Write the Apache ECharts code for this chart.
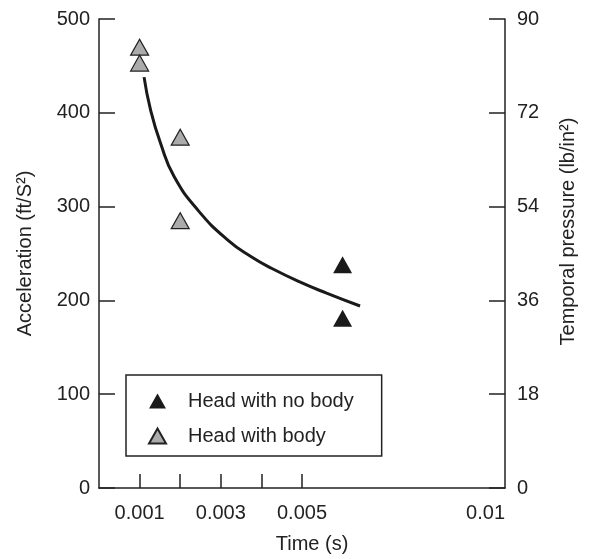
<!DOCTYPE html>
<html>
<head>
<meta charset="utf-8">
<title>Acceleration vs time</title>
<style>
    html, body { margin:0; padding:0; background:#fff; }
    #main { width:591px; height:559px; }
</style>
</head>
<body>
<div id="main"></div>
<script src="https://cdn.jsdelivr.net/npm/echarts@6/dist/echarts.min.js"></script>
<script type="text/javascript">
    // data
    var noBodyTime = [0.006, 0.006];
    var noBodyAccel = [238, 181];
    var withBodyTime = [0.001, 0.001, 0.002, 0.002];
    var withBodyAccel = [470, 453, 374, 285];
    // fitted curve
    var curveTime = [0.00111, 0.00127, 0.00152, 0.00185, 0.00244, 0.00318, 0.00377, 0.00426, 0.00493, 0.00559, 0.00643];
    var curveAccel = [438, 403, 367, 332, 296, 264, 246, 234, 220, 208, 194];
    var xTicks = [0.001, 0.002, 0.003, 0.004, 0.005];
    var xLabels = [0.001, 0.003, 0.005, 0.01];

    function pairs(xs, ys) {
        var out = [];
        for (var i = 0; i < xs.length; i++) out.push([xs[i], ys[i]]);
        return out;
    }

    var ink = '#222';
    var font = 'Liberation Sans, Arial, sans-serif';
    var fs = 20;

    var chart = echarts.init(document.getElementById('main'));
    var option = {
        backgroundColor: '#fff',
        animation: false,
        textStyle: { fontFamily: font },
        grid: { left: 99, right: 86, top: 19, bottom: 71 },
        legend: {
            orient: 'vertical',
            left: 126,
            top: 375,
            data: ['Head with no body', 'Head with body'],
            icon: 'triangle',
            itemWidth: 17,
            itemHeight: 15,
            itemGap: 15,
            borderColor: ink,
            borderWidth: 1.5,
            padding: [16, 28, 10, 22],
            textStyle: { fontSize: fs, color: ink, fontFamily: font, padding: [0, 0, 0, 17] }
        },
        xAxis: {
            type: 'value',
            min: 0,
            max: 0.01,
            name: 'Time (s)',
            nameLocation: 'middle',
            nameGap: 46,
            nameTextStyle: { fontSize: fs, color: ink, padding: [0, 0, 0, 20] },
            axisLine: { lineStyle: { color: ink, width: 1.5 } },
            axisTick: { inside: true, length: 14, customValues: xTicks, lineStyle: { color: ink, width: 1.5 } },
            axisLabel: {
                customValues: xLabels,
                fontSize: fs,
                color: ink,
                margin: 15,
                alignMaxLabel: 'right',
                formatter: function (v) { return v === 0.01 ? '0.01' : v.toFixed(3); }
            },
            splitLine: { show: false }
        },
        yAxis: [{
            type: 'value',
            min: 0,
            max: 500,
            interval: 100,
            name: 'Acceleration (ft/S²)',
            nameLocation: 'middle',
            nameGap: 64,
            nameTextStyle: { fontSize: fs, color: ink },
            axisLine: { show: true, lineStyle: { color: ink, width: 1.5 } },
            axisTick: { show: true, inside: true, length: 16, lineStyle: { color: ink, width: 1.5 } },
            axisLabel: { fontSize: fs, color: ink, margin: 9 },
            splitLine: { show: false }
        }, {
            type: 'value',
            min: 0,
            max: 90,
            interval: 18,
            position: 'right',
            name: 'Temporal pressure (lb/in²)',
            nameLocation: 'middle',
            nameGap: 53,
            nameTextStyle: { fontSize: fs, color: ink, padding: [0, 0, 0, 44] },
            axisLine: { show: true, lineStyle: { color: ink, width: 1.5 } },
            axisTick: { show: true, inside: true, length: 16, lineStyle: { color: ink, width: 1.5 } },
            axisLabel: { fontSize: fs, color: ink, margin: 12 },
            splitLine: { show: false }
        }],
        series: [{
            name: 'fit',
            type: 'line',
            smooth: true,
            showSymbol: false,
            silent: true,
            lineStyle: { color: '#1a1a1a', width: 3 },
            data: pairs(curveTime, curveAccel)
        }, {
            name: 'Head with no body',
            type: 'scatter',
            symbol: 'triangle',
            symbolSize: [19, 17],
            itemStyle: { color: '#1a1a1a', opacity: 1 },
            data: pairs(noBodyTime, noBodyAccel)
        }, {
            name: 'Head with body',
            type: 'scatter',
            symbol: 'triangle',
            symbolSize: [18, 16],
            itemStyle: { color: '#ababab', borderColor: '#222', borderWidth: 1.2, opacity: 1 },
            data: pairs(withBodyTime, withBodyAccel)
        }]
    };
    chart.setOption(option, true);
</script>
</body>
</html>
